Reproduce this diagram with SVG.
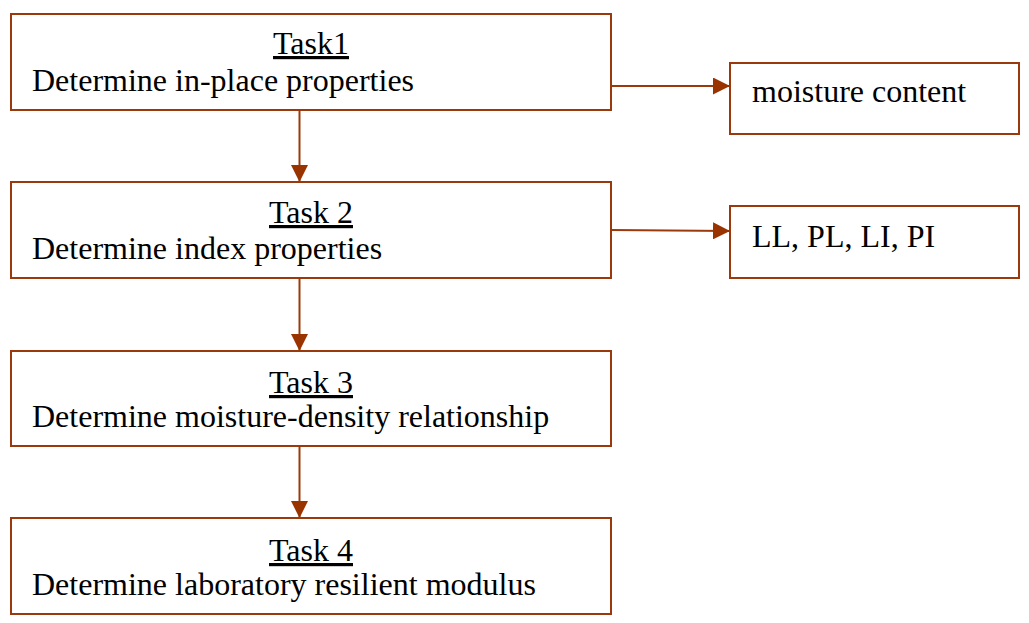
<svg xmlns="http://www.w3.org/2000/svg" width="1029" height="623" viewBox="0 0 1029 623">
<style>
.box{fill:#fff;stroke:#9A3A0C;stroke-width:2}
.t{font-family:"Liberation Serif","Times New Roman",serif;font-size:32px;fill:#000}
.c{text-anchor:middle;text-decoration:underline}
.ln{stroke:#9A3A0C;stroke-width:2;fill:none}
</style>
<defs>
<marker id="ah" markerUnits="userSpaceOnUse" markerWidth="17" markerHeight="17" refX="17" refY="8.5" orient="auto">
<path d="M0,0 L17,8.5 L0,17 Z" fill="#993300"/>
</marker>
</defs>
<rect width="1029" height="623" fill="#fff"/>
<g id="task1">
<rect class="box" x="11" y="14" width="600" height="96"/>
<text class="t c" x="311" y="54">Task1</text>
<text class="t" x="32" y="91">Determine in-place properties</text>
</g>
<g id="task2">
<rect class="box" x="11" y="182" width="600" height="96"/>
<text class="t c" x="311" y="223">Task 2</text>
<text class="t" x="32" y="259">Determine index properties</text>
</g>
<g id="task3">
<rect class="box" x="11" y="351" width="600" height="95"/>
<text class="t c" x="311" y="393">Task 3</text>
<text class="t" x="32" y="427">Determine moisture-density relationship</text>
</g>
<g id="task4">
<rect class="box" x="11" y="518" width="600" height="96"/>
<text class="t c" x="311" y="561">Task 4</text>
<text class="t" x="32" y="595">Determine laboratory resilient modulus</text>
</g>
<g id="moisture">
<rect class="box" x="730" y="63" width="289" height="71"/>
<text class="t" x="752" y="102">moisture content</text>
</g>
<g id="limits">
<rect class="box" x="730" y="206" width="289" height="72"/>
<text class="t" x="752" y="247">LL, PL, LI, PI</text>
</g>
<g id="connectors">
<line class="ln" x1="299.5" y1="110" x2="299.5" y2="182" marker-end="url(#ah)"/>
<line class="ln" x1="299.5" y1="278" x2="299.5" y2="351" marker-end="url(#ah)"/>
<line class="ln" x1="299.5" y1="446" x2="299.5" y2="518" marker-end="url(#ah)"/>
<line class="ln" x1="611" y1="86" x2="730" y2="86" marker-end="url(#ah)"/>
<line class="ln" x1="611" y1="230" x2="730" y2="231" marker-end="url(#ah)"/>
</g>
</svg>
